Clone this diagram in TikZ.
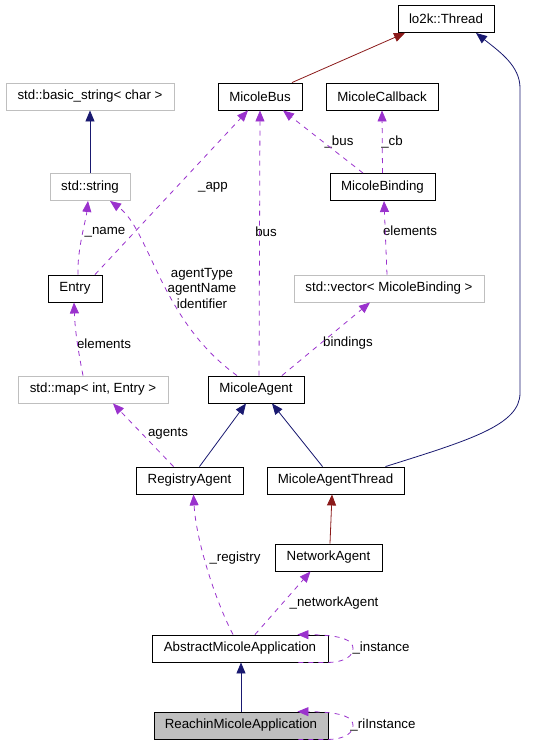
\documentclass[tikz,border=0pt]{standalone}
\usepackage{fontspec}
\setmainfont{Liberation Sans}
\usetikzlibrary{arrows.meta,calc}
\definecolor{edgepurple}{HTML}{9A32CD}
\definecolor{edgenavy}{HTML}{191970}
\definecolor{edgered}{HTML}{8B1A1A}
\definecolor{boxgray}{HTML}{BFBFBF}
\begin{document}
\begin{tikzpicture}[x=1pt,y=-1pt,
  font=\fontsize{13.3}{15.5}\selectfont,
  cls/.style={draw=black, line width=0.9pt, minimum height=27pt, inner sep=0pt, anchor=center},
  ext/.style={cls, draw=boxgray},
  cur/.style={cls, fill=boxgray},
  usearrow/.style={draw=edgepurple, line width=0.8pt, dash pattern=on 5pt off 5pt, -{Triangle[length=11pt,width=9pt]}, edgepurple},
  inh/.style={draw=edgenavy, line width=0.8pt, -{Triangle[length=11pt,width=9pt]}, edgenavy},
  tmpl/.style={draw=edgered, line width=0.8pt, -{Triangle[length=11pt,width=9pt]}, edgered},
  lbl/.style={inner sep=0pt, anchor=center, text=black, align=center}
]
\path[use as bounding box] (0,0) rectangle (539,747);

% nodes
\node[cls, minimum width=96pt] (thread) at (446,19) {lo2k::Thread};
\node[cls, minimum width=84pt] (bus) at (260,96.5) {MicoleBus};
\node[cls, minimum width=112pt] (callback) at (382,96.5) {MicoleCallback};
\node[ext, minimum width=168pt] (basicstr) at (90,96.5) {std::basic\_string< char >};
\node[ext, minimum width=80pt] (stdstr) at (90,187) {std::string};
\node[cls, minimum width=105pt] (binding) at (382.5,187) {MicoleBinding};
\node[cls, minimum width=54pt] (entry) at (75,288.5) {Entry};
\node[ext, minimum width=190pt] (vector) at (389,288.5) {std::vector< MicoleBinding >};
\node[ext, minimum width=150pt] (map) at (93,389.5) {std::map< int, Entry >};
\node[cls, minimum width=96pt] (agent) at (256,389.5) {MicoleAgent};
\node[cls, minimum width=107pt] (registry) at (189.5,480.5) {RegistryAgent};
\node[cls, minimum width=137pt] (agentthread) at (335.5,480.5) {MicoleAgentThread};
\node[cls, minimum width=107pt] (network) at (328.5,557.5) {NetworkAgent};
\node[cls, minimum width=176pt] (abstract) at (240,648.5) {AbstractMicoleApplication};
\node[cur, minimum width=174pt] (reachin) at (241,725.5) {ReachinMicoleApplication};

% labels
\node[lbl] (lbus) at (339,142) {\_bus};
\node[lbl] (lcb) at (392,142) {\_cb};
\node[lbl] (lelem1) at (410,231) {elements};
\node[lbl] (lname) at (105,232) {\_name};
\node[lbl] (lapp) at (213,187) {\_app};
\node[lbl] (lagent) at (202,288) {agentType\\agentName\\identifier};
\node[lbl] (lbus2) at (266,232) {bus};
\node[lbl] (lbind) at (348,343) {bindings};
\node[lbl] (lelem2) at (104,344) {elements};
\node[lbl] (lagents) at (168,434) {agents};
\node[lbl] (lreg) at (235,558) {\_registry};
\node[lbl] (lnet) at (334,603) {\_networkAgent};
\node[lbl] (linst) at (381,648) {\_instance};
\node[lbl] (lriinst) at (383,725) {\_riInstance};

% edges
\draw[tmpl] ([xshift=32pt]bus.north) -- ([xshift=-41pt]thread.south);
\draw[inh] ([xshift=50pt]agentthread.north) .. controls (470,440) and (520,425) .. (520,393)
   -- (520,88) .. controls (520,66) and (500,52) .. ([xshift=30pt]thread.south);
\draw[inh] (stdstr.north) -- (basicstr.south);
\draw[usearrow] ([xshift=-19.5pt]binding.north) -- ([xshift=23pt]bus.south);
\draw[usearrow] (binding.north) -- (callback.south);
\draw[usearrow] ([xshift=-2pt]vector.north) -- ([xshift=1.5pt]binding.south);
\draw[usearrow] ([xshift=3pt]entry.north) .. controls (77,250) and (86,220) .. ([xshift=-2pt]stdstr.south);
\draw[usearrow] ([xshift=20pt]entry.north) -- ([xshift=-12pt]bus.south);
\draw[usearrow] ([xshift=-19pt]agent.north) .. controls (160,320) and (150,230) .. ([xshift=20pt]stdstr.south);
\draw[usearrow] ([xshift=3pt]agent.north) -- (bus.south);
\draw[usearrow] ([xshift=26pt]agent.north) -- ([xshift=-19pt]vector.south);
\draw[usearrow] ([xshift=-10pt]map.north) .. controls (78,350) and (75,330) .. ([xshift=-1pt]entry.south);
\draw[usearrow] ([xshift=-16pt]registry.north) -- ([xshift=20pt]map.south);
\draw[inh] ([xshift=10pt]registry.north) -- ([xshift=-10pt]agent.south);
\draw[inh] ([xshift=-13pt]agentthread.north) -- ([xshift=16pt]agent.south);
\draw[tmpl] ([xshift=1.5pt]network.north) -- ([xshift=-3.5pt]agentthread.south);
\draw[usearrow] ([xshift=-7pt]abstract.north) .. controls (215,600) and (196,540) .. ([xshift=4pt]registry.south);
\draw[usearrow] ([xshift=15pt]abstract.north) -- ([xshift=-18pt]network.south);
\draw[usearrow] ([xshift=-30pt]abstract.south east) -- (abstract.south east)
   .. controls (345,662) and (353,656) .. (353,648.5)
   .. controls (353,641) and (345,635) .. ([xshift=-31pt]abstract.north east);
\draw[inh] (reachin.north) -- (reachin.north |- abstract.south);
\draw[usearrow] ([xshift=-30pt]reachin.south east) -- (reachin.south east)
   .. controls (345,739) and (353,733) .. (353,725.5)
   .. controls (353,718) and (345,712) .. ([xshift=-31pt]reachin.north east);
\end{tikzpicture}
\end{document}
